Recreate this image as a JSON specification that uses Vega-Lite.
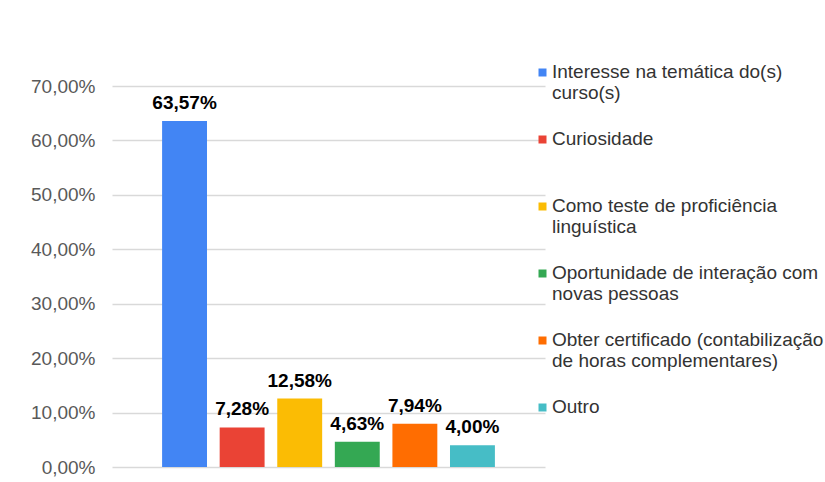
{
  "$schema": "https://vega.github.io/schema/vega-lite/v6.json",
  "width": 433,
  "height": 381,
  "autosize": "none",
  "padding": {"left": 112, "top": 86, "right": 280, "bottom": 15},
  "background": "white",
  "config": {
    "locale": {"number": {"decimal": ",", "thousands": ".", "grouping": [3], "currency": ["R$", ""]}},
    "view": {"stroke": null},
    "font": "Liberation Sans"
  },
  "data": {
    "values": [
      {"motivo": "Interesse na temática do(s)|curso(s)", "valor": 0.6357},
      {"motivo": "Curiosidade", "valor": 0.0728},
      {"motivo": "Como teste de proficiência|linguística", "valor": 0.1258},
      {"motivo": "Oportunidade de interação com|novas pessoas", "valor": 0.0463},
      {"motivo": "Obter certificado (contabilização|de horas complementares)", "valor": 0.0794},
      {"motivo": "Outro", "valor": 0.04}
    ]
  },
  "encoding": {
    "x": {"field": "motivo", "type": "nominal", "sort": null, "axis": null,
          "scale": {"paddingInner": 0.22, "paddingOuter": 0.87}},
    "y": {"field": "valor", "type": "quantitative",
          "scale": {"domain": [0, 0.7], "nice": false},
          "axis": {"title": null, "format": ".2%", "values": [0, 0.1, 0.2, 0.3, 0.4, 0.5, 0.6, 0.7],
                   "ticks": false, "domain": false, "gridColor": "#d9d9d9", "gridWidth": 1.3,
                   "labelFontSize": 19, "labelColor": "#595959", "labelPadding": 17,
                   "labelFont": "Liberation Sans"}}
  },
  "layer": [
    {
      "mark": {"type": "bar"},
      "encoding": {
        "color": {"field": "motivo", "type": "nominal",
                  "scale": {"domain": ["Interesse na temática do(s)|curso(s)", "Curiosidade", "Como teste de proficiência|linguística", "Oportunidade de interação com|novas pessoas", "Obter certificado (contabilização|de horas complementares)", "Outro"],
                            "range": ["#4285F4", "#EA4335", "#FBBC04", "#34A853", "#FF6D01", "#46BDC6"]},
                  "legend": {"title": null, "orient": "none", "legendX": 421, "legendY": -23,
                             "padding": 0, "symbolType": "square", "symbolSize": 64, "symbolStrokeWidth": 0,
                             "labelFontSize": 19, "labelColor": "#333333", "labelFont": "Liberation Sans",
                             "labelOffset": 0, "labelLimit": 400, "gridAlign": "all", "rowPadding": 26,
                             "labelBaseline": "top",
                             "labelExpr": "split(datum.label, '|')",
                             "encoding": {"labels": {"dy": {"value": -10}}}}}
      }
    },
    {
      "mark": {"type": "text", "dy": -12, "baseline": "alphabetic", "fontWeight": "bold", "fontSize": 19,
               "color": "black", "font": "Liberation Sans"},
      "encoding": {"text": {"field": "valor", "type": "quantitative", "format": ".2%"}}
    }
  ]
}
